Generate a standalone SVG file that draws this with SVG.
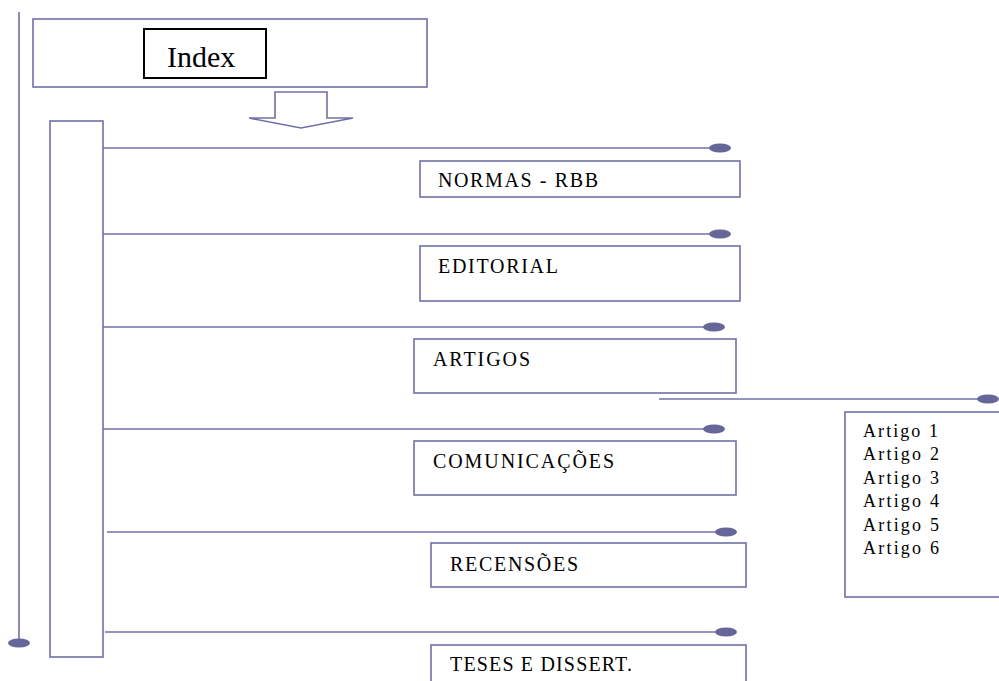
<svg xmlns="http://www.w3.org/2000/svg" width="999" height="681" viewBox="0 0 999 681">
<style>
.box{fill:#ffffff;stroke:#7070a8;stroke-width:1.6}
.ln{stroke:#7070a8;stroke-width:1.6;fill:none}
.dot{fill:#666699}
.t{font-family:"Liberation Serif","Times New Roman",serif;font-size:20px;fill:#000000}
.s{font-size:18px}
</style>
<rect width="999" height="681" fill="#ffffff"/>
<g id="connectors">
<line class="ln" x1="19" y1="12" x2="19" y2="641"/>
<ellipse class="dot" cx="19" cy="643" rx="11" ry="4.5"/>
<line class="ln" x1="103" y1="148" x2="712" y2="148"/>
<ellipse class="dot" cx="720" cy="148" rx="11" ry="4.5"/>
<line class="ln" x1="103" y1="234" x2="712" y2="234"/>
<ellipse class="dot" cx="720" cy="234" rx="11" ry="4.5"/>
<line class="ln" x1="103" y1="327" x2="706" y2="327"/>
<ellipse class="dot" cx="714" cy="327" rx="11" ry="4.5"/>
<line class="ln" x1="103" y1="429" x2="706" y2="429"/>
<ellipse class="dot" cx="714" cy="429" rx="11" ry="4.5"/>
<line class="ln" x1="107" y1="532" x2="718" y2="532"/>
<ellipse class="dot" cx="726" cy="532" rx="11" ry="4.5"/>
<line class="ln" x1="105" y1="632" x2="718" y2="632"/>
<ellipse class="dot" cx="726" cy="632" rx="11" ry="4.5"/>
<line class="ln" x1="659" y1="399" x2="980" y2="399"/>
<ellipse class="dot" cx="988" cy="399" rx="11" ry="4.5"/>
<path class="box" d="M275 92 H327 V118 H353 L301 128 L249 118 H275 Z"/>
</g>
<g id="top">
<rect class="box" x="33" y="19" width="394" height="68"/>
</g>
<g id="index">
<rect x="144" y="29" width="122" height="49" fill="#ffffff" stroke="#000000" stroke-width="2"/>
<text class="t" x="167" y="67" style="font-size:30px">Index</text>
</g>
<g id="spine">
<rect class="box" x="50" y="121" width="53" height="536"/>
</g>
<g id="normas">
<rect class="box" x="420" y="161" width="320" height="36"/>
<text class="t" x="438" y="187" textLength="160" lengthAdjust="spacing">NORMAS - RBB</text>
</g>
<g id="editorial">
<rect class="box" x="420" y="246" width="320" height="55"/>
<text class="t" x="438" y="273" textLength="120" lengthAdjust="spacing">EDITORIAL</text>
</g>
<g id="artigos">
<rect class="box" x="414" y="339" width="322" height="54"/>
<text class="t" x="433" y="366" textLength="97" lengthAdjust="spacing">ARTIGOS</text>
</g>
<g id="comunicacoes">
<rect class="box" x="414" y="441" width="322" height="54"/>
<text class="t" x="433" y="468" textLength="181" lengthAdjust="spacing">COMUNICAÇÕES</text>
</g>
<g id="recensoes">
<rect class="box" x="431" y="543" width="315" height="44"/>
<text class="t" x="450" y="571" textLength="128" lengthAdjust="spacing">RECENSÕES</text>
</g>
<g id="teses">
<rect class="box" x="431" y="645" width="315" height="50"/>
<text class="t" x="450" y="671" textLength="182" lengthAdjust="spacing">TESES E DISSERT.</text>
</g>
<g id="lista-artigos">
<rect class="box" x="845" y="412" width="170" height="185"/>
<text class="t s" x="863" y="437" textLength="75" lengthAdjust="spacing">Artigo 1</text>
<text class="t s" x="863" y="460" textLength="76" lengthAdjust="spacing">Artigo 2</text>
<text class="t s" x="863" y="484" textLength="76" lengthAdjust="spacing">Artigo 3</text>
<text class="t s" x="863" y="507" textLength="76" lengthAdjust="spacing">Artigo 4</text>
<text class="t s" x="863" y="531" textLength="76" lengthAdjust="spacing">Artigo 5</text>
<text class="t s" x="863" y="554" textLength="76" lengthAdjust="spacing">Artigo 6</text>
</g>
</svg>
